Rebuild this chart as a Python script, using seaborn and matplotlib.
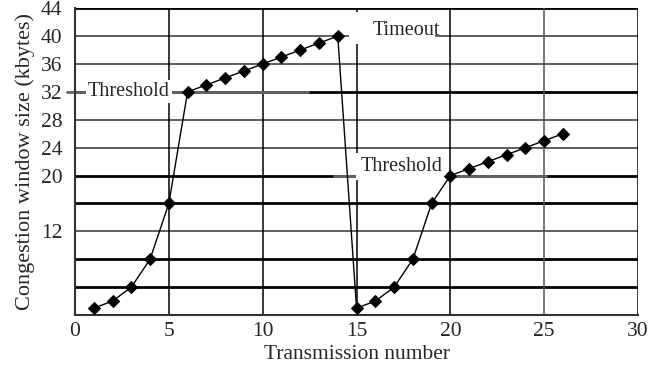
import matplotlib
matplotlib.use("Agg")
import matplotlib.pyplot as plt
import seaborn as sns
import pandas as pd

# Data
transmission = [1, 2, 3, 4, 5, 6, 7, 8, 9, 10, 11, 12, 13, 14,
                15, 16, 17, 18, 19, 20, 21, 22, 23, 24, 25, 26]
cwnd = [1, 2, 4, 8, 16, 32, 33, 34, 35, 36, 37, 38, 39, 40,
        1, 2, 4, 8, 16, 20, 21, 22, 23, 24, 25, 26]
y_ticks = [0, 4, 8, 12, 16, 20, 24, 28, 32, 36, 40, 44]
y_ticklabels = ["", "", "", "12", "", "20", "24", "28", "32", "36", "40", "44"]
x_ticks = [0, 5, 10, 15, 20, 25, 30]
threshold1 = 32
threshold2 = 20

df = pd.DataFrame({"Transmission number": transmission, "cwnd": cwnd})

sns.set_theme(style="white")
plt.rcParams["font.family"] = ["Liberation Serif", "DejaVu Serif"]

fig = plt.figure(figsize=(6.48, 3.72), dpi=100)
ax = fig.add_axes([0.1157, 0.153, 0.869, 0.825])

# horizontal grid lines
thick = {44, 32, 20, 16, 8, 4}
for v in y_ticks[1:]:
    if v in thick:
        ax.axhline(v, color="black", lw=2.0, zorder=1)
    else:
        ax.axhline(v, color="#333333", lw=1.1, zorder=1)
# vertical grid lines
for v in x_ticks[1:]:
    col = "#555555" if v == 25 else "black"
    ax.axvline(v, color=col, lw=1.1, zorder=1)

# threshold lines
ax.plot([-0.4, 12.4], [threshold1, threshold1], color="#666666", lw=2.0,
        zorder=2, clip_on=False)
ax.plot([13.8, 25.1], [threshold2, threshold2], color="#666666", lw=2.0,
        zorder=2)

# labels with white boxes
ax.text(0.7, threshold1, "Threshold", fontsize=14.5, va="center", ha="left",
        zorder=3, bbox=dict(facecolor="white", edgecolor="none", pad=1.5))
ax.text(15.2, 21.3, "Threshold", fontsize=14.5, va="center", ha="left",
        zorder=3, bbox=dict(facecolor="white", edgecolor="none", pad=3))
ax.add_patch(plt.Rectangle((14.6, 38.8), 4.6, 4.6, facecolor="white",
                           edgecolor="none", zorder=2.5))
ax.text(15.85, 40.8, "Timeout", fontsize=14.5, va="center", ha="left",
        zorder=3)

sns.lineplot(data=df, x="Transmission number", y="cwnd", ax=ax, color="black",
             lw=1.0, marker="D", markersize=6.5, markeredgecolor="black",
             zorder=4, sort=False)

ax.set_xlim(0, 30)
ax.set_ylim(0, 44)
ax.set_xticks(x_ticks)
ax.set_xticklabels([str(v) for v in x_ticks])
ax.set_yticks(y_ticks)
ax.set_yticklabels(y_ticklabels)
ax.tick_params(axis="both", labelsize=15.5, length=0)
ax.tick_params(axis="y", pad=9)
ax.tick_params(axis="x", pad=5)
ax.set_xlabel("Transmission number", fontsize=15.5, labelpad=3)
ax.set_ylabel("Congestion window size (kbytes)", fontsize=16, labelpad=4)

for s in ["top", "right"]:
    ax.spines[s].set_visible(False)
ax.spines["left"].set_color("#333333")
ax.spines["left"].set_linewidth(1.5)
ax.spines["bottom"].set_color("#333333")
ax.spines["bottom"].set_linewidth(1.5)

fig.savefig("out.png", dpi=100)
